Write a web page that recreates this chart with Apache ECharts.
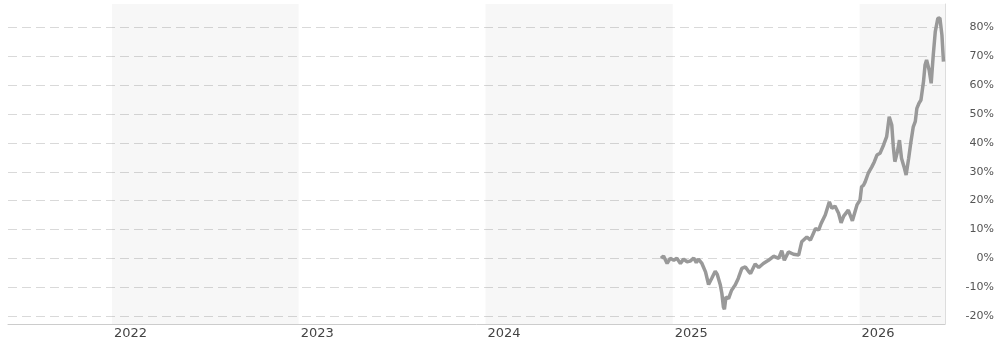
<!DOCTYPE html>
<html>
<head>
<meta charset="utf-8">
<script src="https://cdn.jsdelivr.net/npm/echarts@6/dist/echarts.min.js"></script>
<style>
    html, body { margin: 0; padding: 0; background: #fff; }
    #chart { width: 997px; height: 343px; }
</style>
</head>
<body>
<div id="chart"></div>
<script>
// dates of the line points
const dates = [
    '2024-12-09', '2024-12-14', '2024-12-21', '2024-12-27', '2025-01-03', '2025-01-09',
    '2025-01-16', '2025-01-22', '2025-01-29', '2025-02-04', '2025-02-11', '2025-02-16',
    '2025-02-20', '2025-02-27', '2025-03-06', '2025-03-12', '2025-03-18', '2025-03-25',
    '2025-03-29', '2025-04-04', '2025-04-07', '2025-04-10', '2025-04-12', '2025-04-15',
    '2025-04-20', '2025-04-26', '2025-05-03', '2025-05-09', '2025-05-16', '2025-05-23',
    '2025-05-29', '2025-06-02', '2025-06-11', '2025-06-18', '2025-06-27', '2025-07-07',
    '2025-07-17', '2025-07-27', '2025-08-02', '2025-08-07', '2025-08-15', '2025-08-25',
    '2025-09-04', '2025-09-10', '2025-09-20', '2025-09-27', '2025-10-07', '2025-10-13',
    '2025-10-18', '2025-10-26', '2025-11-03', '2025-11-08', '2025-11-14', '2025-11-21',
    '2025-11-26', '2025-12-01', '2025-12-10', '2025-12-18', '2025-12-27', '2026-01-02',
    '2026-01-05', '2026-01-09', '2026-01-12', '2026-01-18', '2026-01-25', '2026-01-30',
    '2026-02-04', '2026-02-10', '2026-02-17', '2026-02-23', '2026-02-28', '2026-03-05',
    '2026-03-08', '2026-03-11', '2026-03-16', '2026-03-20', '2026-03-24', '2026-03-29',
    '2026-04-02', '2026-04-07', '2026-04-11', '2026-04-16', '2026-04-20', '2026-04-23',
    '2026-04-27', '2026-05-01', '2026-05-06', '2026-05-09', '2026-05-12', '2026-05-17',
    '2026-05-21', '2026-05-25', '2026-05-29', '2026-06-03', '2026-06-07', '2026-06-11',
    '2026-06-14'
]
// performance in %
const values = [
    0, 0.8, -1.8, 0, -0.7, 0,
    -1.8, -0.3, -1.2, -1, 0.1, -1.5,
    -0.3, -1.8, -4.7, -9.1, -7, -4.5,
    -5.6, -9.3, -12.2, -16.9, -17.7, -13.4,
    -14, -11.1, -9.3, -7, -3.5, -3,
    -4.5, -5.3, -2, -3.2, -1.8, -0.7,
    0.7, 0, 2.6, -0.7, 2.2, 1.4,
    1.1, 5.7, 7.4, 6.3, 10.3, 9.8,
    12.1, 15, 19.6, 17.3, 18.1, 15.6,
    12.3, 14.6, 16.7, 13, 18.5, 20.2,
    24.8, 25.4, 26.5, 29.5, 31.7, 33.5,
    35.8, 36.4, 39.3, 42.2, 49.1, 46.2,
    38.7, 33.5, 36.9, 41, 34.7, 31.7,
    28.9, 34.7, 39.9, 45.6, 47.5, 52,
    53.7, 54.9, 61.3, 67, 68.8, 65.3,
    60.7, 70.4, 78.6, 83.2, 83.4, 77.4,
    68.2
]
const yTicks = [-20, -10, 0, 10, 20, 30, 40, 50, 60, 70, 80]
// shaded years
const shadedYears = [
    ['2022-01-01', '2023-01-01'],
    ['2024-01-01', '2025-01-01'],
    ['2026-01-01', '2026-06-17']
]

const xMin = '2021-06-12'
const xMax = '2026-06-17'

const myChart = echarts.init(document.getElementById('chart'))
const option = {
    animation: false,
    grid: {
        left: 8,
        right: 51,
        top: 4,
        bottom: 19
    },
    xAxis: {
        type: 'time',
        min: xMin,
        max: xMax,
        minInterval: 365 * 24 * 3600 * 1000,
        axisLine: { onZero: false, lineStyle: { color: '#cccccc' } },
        axisTick: { show: false },
        splitLine: { show: false },
        axisLabel: {
            color: '#444',
            fontFamily: 'DejaVu Sans',
            fontSize: 13,
            align: 'left',
            margin: 3,
            padding: [0, 0, 0, 2],
            showMinLabel: false,
            showMaxLabel: false,
            formatter: (val) => String(new Date(val).getFullYear())
        }
    },
    yAxis: {
        type: 'value',
        position: 'right',
        min: -22.8,
        max: 88.2,
        axisLine: { show: true, lineStyle: { color: '#dddddd' } },
        axisTick: { show: false, customValues: yTicks },
        axisLabel: {
            customValues: yTicks,
            color: '#555',
            fontFamily: 'DejaVu Sans',
            fontSize: 11,
            align: 'right',
            margin: 49,
            formatter: '{value}%'
        },
        splitLine: {
            show: true,
            lineStyle: { color: '#d9d9d9', type: [9, 5], width: 1 }
        }
    },
    series: [
        {
            type: 'line',
            data: dates.map((d, i) => [d, values[i]]),
            showSymbol: false,
            lineStyle: { color: '#999999', width: 3.5 },
            itemStyle: { color: '#999999' },
            z: 3,
            markArea: {
                silent: true,
                itemStyle: { color: 'rgba(0,0,0,0.03)' },
                data: shadedYears.map((r) => [{ xAxis: r[0] }, { xAxis: r[1] }])
            }
        }
    ]
}
myChart.setOption(option)
</script>
</body>
</html>
